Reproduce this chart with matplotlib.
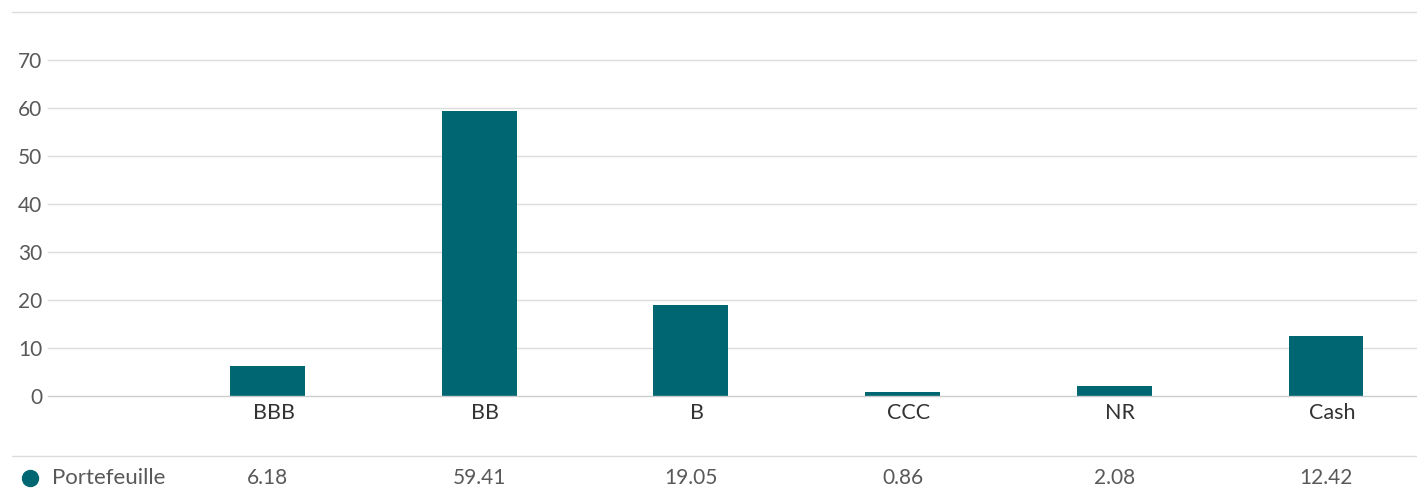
import matplotlib
matplotlib.use("Agg")
import matplotlib.pyplot as plt
from matplotlib.lines import Line2D
from matplotlib.transforms import blended_transform_factory, ScaledTranslation

categories = ["BBB", "BB", "B", "CCC", "NR", "Cash"]
values = [6.18, 59.41, 19.05, 0.86, 2.08, 12.42]
value_labels = ["6.18", "59.41", "19.05", "0.86", "2.08", "12.42"]
series_name = "Portefeuille"
yticks = [0, 10, 20, 30, 40, 50, 60, 70]

W, H = 1417, 491
BAR = "#006672"
GRID = "#dcdcdc"
TXT = "#595959"

plt.rcParams["font.family"] = ["Lato", "DejaVu Sans"]

fig = plt.figure(figsize=(W / 100, H / 100), dpi=100)
ax = fig.add_axes([48 / W, (H - 396) / H, (1417 - 48) / W, (396 - 12) / H])

x = list(range(len(categories)))
ax.bar(x, values, width=0.354, color=BAR, zorder=3)

ax.set_ylim(0, 80)
ax.set_xlim(-1.037, 5.43)
ax.set_yticks(yticks)
ax.set_yticklabels([str(t) for t in yticks], fontsize=15, color=TXT)
ax.set_xticks(x)
ax.set_xticklabels(categories, fontsize=15.5, color="#333333")
ax.tick_params(axis="both", length=0)
ax.tick_params(axis="y", pad=4)
ax.tick_params(axis="x", pad=5)
shift = ScaledTranslation(6 / 100, 0, fig.dpi_scale_trans)
for lbl in ax.get_xticklabels():
    lbl.set_transform(lbl.get_transform() + shift)
for s in ax.spines.values():
    s.set_visible(False)
for t in yticks:
    ax.axhline(t, color="#cccccc" if t == 0 else GRID, lw=1, zorder=1 if t else 4, clip_on=False)

# top line and table line
for ypix in (12, 456):
    fig.add_artist(Line2D([12 / W, 1417 / W], [(H - ypix) / H] * 2, color=GRID, lw=1))

# legend/table row
ty = (H - 478) / H
fig.add_artist(Line2D([30 / W], [ty], marker="o", markersize=11.5, color=BAR, lw=0))
fig.text(52 / W, ty, series_name, fontsize=16, color=TXT, va="center", ha="left")
tr = blended_transform_factory(ax.transData, fig.transFigure)
for xi, lab in zip(x, value_labels):
    fig.text(xi, ty, lab, transform=tr, fontsize=15, color=TXT, va="center", ha="center")

fig.savefig("out.png", dpi=100, facecolor="white")
